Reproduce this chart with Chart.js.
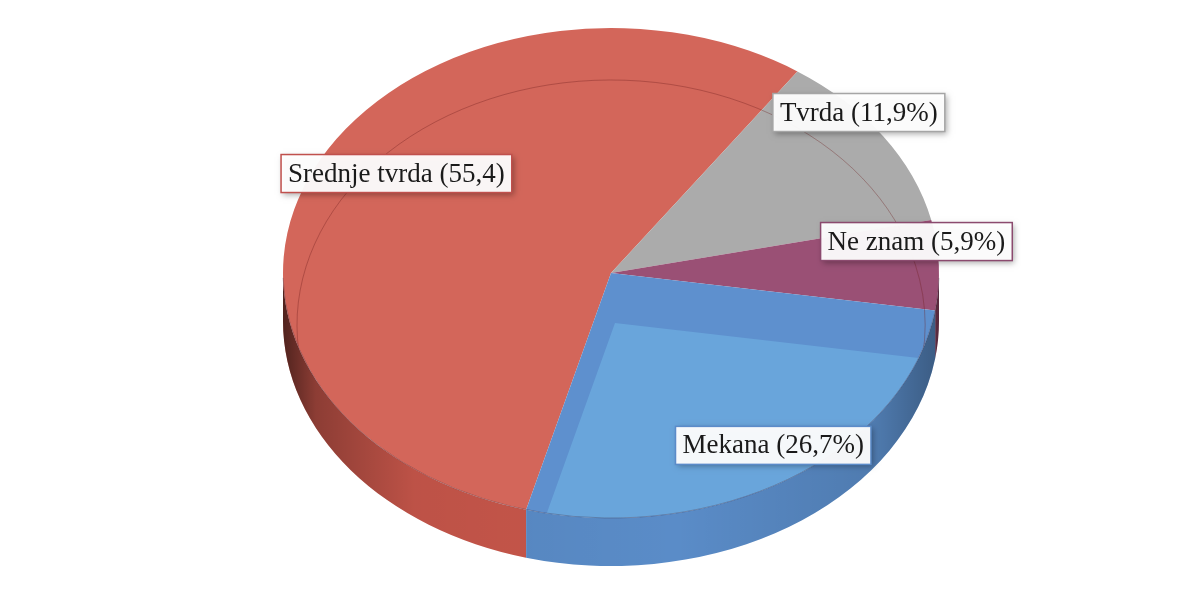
<!DOCTYPE html>
<html>
<head>
<meta charset="utf-8">
<script src="https://cdn.jsdelivr.net/npm/chart.js@4"></script>
<style>
  body { margin: 0; background: #fff; }
</style>
</head>
<body>
<canvas id="myChart" width="1204" height="598"></canvas>
<script>
var categories = ["Srednje tvrda", "Tvrda", "Ne znam", "Mekana"];
var values = [55.4, 11.9, 5.9, 26.7];
var labelTexts = ["Srednje tvrda (55,4)", "Tvrda (11,9%)", "Ne znam (5,9%)", "Mekana (26,7%)"];

var topColors = ["#D3665A", "#ABABAB", "#9A5075", "#5E90CE"];
var sideColors = ["#C9574B", "#9A9A9A", "#87405F", "#5A8CC8"];
var boxBorders = ["#C0504D", "#A5A5A5", "#8B4A6E", "#5B8BC9"];

// label placement: fraction of radius and angle nudge (deg)
var labelRadius = [0.77, 1.0, 0.94, 0.86];
var labelNudge = [7, -7, -6, -2];

var RX = 328, TILT = 0.747, DEPTH = 48;

function geom(chart) {
  var arc = chart.getDatasetMeta(0).data[0];
  var k = RX / arc.outerRadius;
  return { cx: arc.x, cy: arc.y, r: arc.outerRadius, sx: k, sy: k * TILT, rx: RX, ry: RX * TILT };
}

function sideSegments(s, e) {
  var segs = [];
  for (var k = -2; k <= 2; k++) {
    var a = Math.max(s, 2 * Math.PI * k), b = Math.min(e, 2 * Math.PI * k + Math.PI);
    if (b > a) segs.push([a, b]);
  }
  return segs;
}

function pieTransform(ctx, g) {
  ctx.translate(g.cx, g.cy);
  ctx.scale(g.sx, g.sy);
  ctx.translate(-g.cx, -g.cy);
}

var pie3d = {
  id: "pie3d",
  beforeDatasetsDraw: function(chart) {
    var ctx = chart.ctx, g = geom(chart);
    var arcs = chart.getDatasetMeta(0).data;
    arcs.forEach(function(a, i) {
      sideSegments(a.startAngle, a.endAngle).forEach(function(seg) {
        ctx.beginPath();
        ctx.ellipse(g.cx, g.cy, g.rx, g.ry, 0, seg[0], seg[1]);
        ctx.ellipse(g.cx, g.cy + DEPTH, g.rx, g.ry, 0, seg[1], seg[0], true);
        ctx.closePath();
        ctx.fillStyle = sideColors[i];
        ctx.fill();
        var grad = ctx.createLinearGradient(g.cx - g.rx, 0, g.cx + g.rx, 0);
        grad.addColorStop(0, "rgba(0,0,0,0.6)");
        grad.addColorStop(0.05, "rgba(0,0,0,0.3)");
        grad.addColorStop(0.2, "rgba(0,0,0,0.06)");
        grad.addColorStop(0.6, "rgba(0,0,0,0)");
        grad.addColorStop(0.9, "rgba(0,0,0,0.12)");
        grad.addColorStop(1, "rgba(0,0,0,0.35)");
        ctx.fillStyle = grad;
        ctx.fill();
      });
    });
    ctx.save();
    pieTransform(ctx, g);
  },
  afterDatasetsDraw: function(chart) {
    var ctx = chart.ctx, g = geom(chart);
    ctx.restore();
    // lighter inner face of the Mekana slice
    var m = chart.getDatasetMeta(0).data[3];
    ctx.save();
    pieTransform(ctx, g);
    ctx.beginPath();
    ctx.moveTo(g.cx, g.cy);
    ctx.arc(g.cx, g.cy, g.r, m.startAngle, m.endAngle);
    ctx.closePath();
    ctx.clip();
    var ox = g.cx + 4 / g.sx, oy = g.cy + 50 / g.sy;
    ctx.beginPath();
    ctx.moveTo(ox, oy);
    ctx.arc(ox, oy, g.r, m.startAngle, m.endAngle);
    ctx.closePath();
    ctx.fillStyle = "#69A5DB";
    ctx.fill();
    ctx.restore();

    // faint back rim seen through the top face
    ctx.save();
    ctx.beginPath();
    ctx.ellipse(g.cx, g.cy, g.rx, g.ry, 0, 0, Math.PI * 2);
    ctx.clip();
    ctx.beginPath();
    ctx.ellipse(g.cx, g.cy + DEPTH + 4, g.rx - 14, g.ry, 0, Math.PI - 0.25, Math.PI * 2 + 0.25);
    ctx.strokeStyle = "rgba(110,30,30,0.35)";
    ctx.lineWidth = 1;
    ctx.stroke();
    ctx.restore();

    // thin rim along the front edge of the top face
    ctx.save();
    ctx.beginPath();
    ctx.ellipse(g.cx, g.cy, g.rx, g.ry, 0, 0.02, Math.PI - 0.02);
    ctx.strokeStyle = "rgba(60,40,60,0.3)";
    ctx.lineWidth = 1;
    ctx.stroke();
    ctx.restore();
  },
  afterDraw: function(chart) {
    var ctx = chart.ctx, g = geom(chart);
    var arcs = chart.getDatasetMeta(0).data;
    ctx.save();
    ctx.font = "27px 'Liberation Serif'";
    ctx.textAlign = "center";
    ctx.textBaseline = "middle";
    arcs.forEach(function(a, i) {
      var mid = (a.startAngle + a.endAngle) / 2 + labelNudge[i] * Math.PI / 180;
      var px = g.cx + g.rx * labelRadius[i] * Math.cos(mid);
      var py = g.cy + g.ry * labelRadius[i] * Math.sin(mid);
      var w = ctx.measureText(labelTexts[i]).width + 14, h = 38;
      ctx.shadowColor = "rgba(0,0,0,0.35)";
      ctx.shadowBlur = 6;
      ctx.shadowOffsetX = 2;
      ctx.shadowOffsetY = 2;
      ctx.fillStyle = "rgba(255,255,255,0.95)";
      ctx.fillRect(px - w / 2, py - h / 2, w, h);
      ctx.shadowColor = "transparent";
      ctx.lineWidth = 1.5;
      ctx.strokeStyle = boxBorders[i];
      ctx.strokeRect(px - w / 2, py - h / 2, w, h);
      ctx.fillStyle = "#1a1a1a";
      ctx.fillText(labelTexts[i], px, py + 1);
    });
    ctx.restore();
  }
};

var ctx = document.getElementById("myChart").getContext("2d");

var myChart = new Chart(ctx, {
  type: "pie",
  data: {
    labels: categories,
    datasets: [{
      data: values,
      backgroundColor: topColors,
      borderWidth: 0,
      clip: false
    }]
  },
  options: {
    responsive: false,
    animation: false,
    rotation: -165,
    layout: {
      padding: { left: 18, right: 0, top: 0, bottom: 52 }
    },
    plugins: {
      legend: { display: false },
      tooltip: { enabled: false }
    }
  },
  plugins: [pie3d]
});
</script>
</body>
</html>
